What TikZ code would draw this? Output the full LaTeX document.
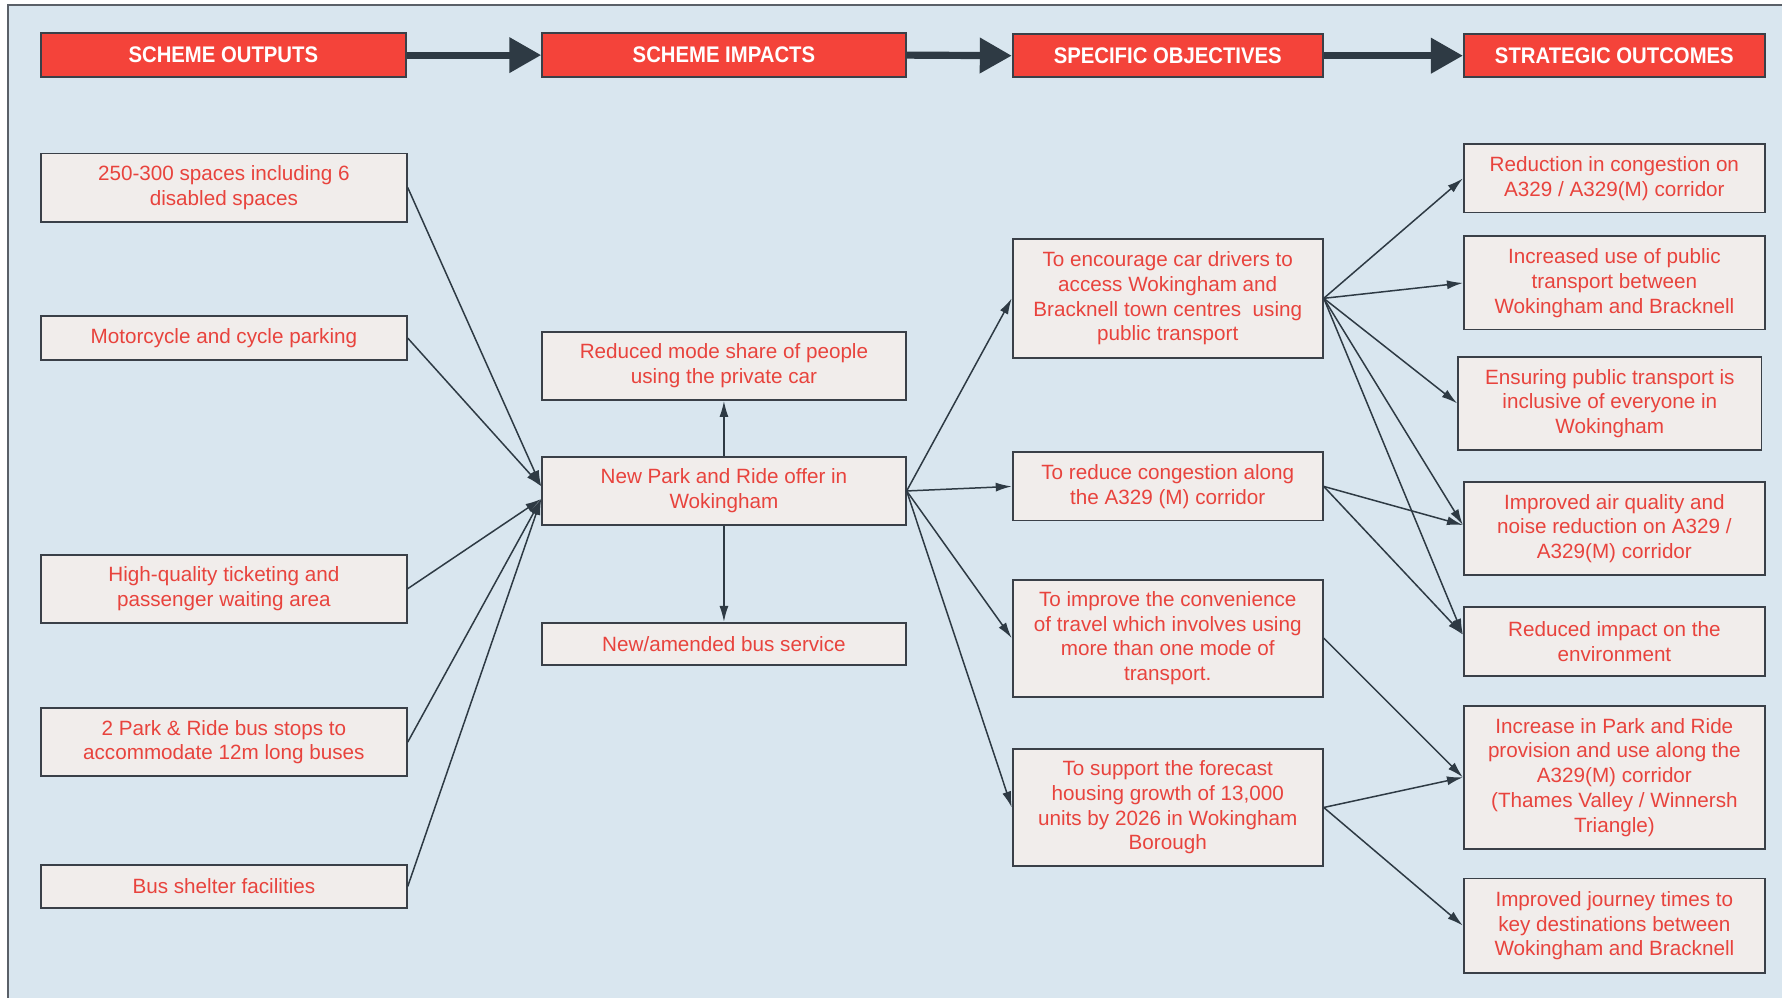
\documentclass[tikz,border=0pt]{standalone}
\usepackage{fontspec}
\setmainfont{Liberation Sans}
\newfontfamily\hdrfont[FakeStretch=0.9]{Liberation Sans}
\usetikzlibrary{arrows.meta,calc}
\definecolor{bg}{HTML}{D9E6EF}
\definecolor{hdr}{HTML}{F4433A}
\definecolor{boxfill}{HTML}{F1EDEB}
\definecolor{boxline}{HTML}{3A4048}
\definecolor{txt}{HTML}{E8433D}
\definecolor{arr}{HTML}{2E3A44}
\definecolor{framec}{HTML}{5A6068}
\begin{document}
\begin{tikzpicture}[x=0.02cm,y=-0.02cm,
 hdrbox/.style={draw=boxline,line width=0.9pt,fill=hdr,text=white,font=\hdrfont\bfseries\fontsize{11.3}{13}\selectfont,minimum height=0.78cm,inner sep=0pt},
 txtbox/.style={draw=boxline,line width=0.9pt,fill=boxfill,text=txt,font=\fontsize{10.35}{12.4}\selectfont,align=center,inner sep=0pt},
 bigarrow/.style={draw=arr,line width=3.6pt,-{Triangle[length=16pt,width=17pt]}},
 conn/.style={draw=arr,line width=0.75pt,-{Latex[length=8pt,width=4.5pt]}}
]
\useasboundingbox (0,0) rectangle (1568,878);
\fill[white] (0,0) rectangle (1568,878);
\fill[bg] (7,4) rectangle (1568,878);
\draw[framec,line width=1pt] (7,878) -- (7,4) -- (1568,4);

% headers
\node[hdrbox,minimum width=6.42cm] (h1) at (196.5,48.5) {SCHEME OUTPUTS};
\node[hdrbox,minimum width=6.4cm] (h2) at (637,48.5) {SCHEME IMPACTS};
\node[hdrbox,minimum width=5.46cm,minimum height=0.76cm] (h3) at (1027.5,49) {SPECIFIC OBJECTIVES};
\node[hdrbox,minimum width=5.3cm,minimum height=0.76cm] (h4) at (1420.5,49) {STRATEGIC OUTCOMES};
\draw[bigarrow] (h1.east) -- (h2.west);
\draw[bigarrow] (h2.east) -- (h3.west);
\draw[bigarrow] (h3.east) -- (h4.west);

% scheme outputs
\node[txtbox,minimum width=6.44cm,minimum height=1.2cm] (l1) at (197,165) {250-300 spaces including 6\\disabled spaces};
\node[txtbox,minimum width=6.44cm,minimum height=0.78cm] (l2) at (197,297.5) {Motorcycle and cycle parking};
\node[txtbox,minimum width=6.44cm,minimum height=1.2cm] (l3) at (197,518) {High-quality ticketing and\\passenger waiting area};
\node[txtbox,minimum width=6.44cm,minimum height=1.2cm] (l4) at (197,653) {2 Park \& Ride bus stops to\\accommodate 12m long buses};
\node[txtbox,minimum width=6.44cm,minimum height=0.76cm] (l5) at (197,780) {Bus shelter facilities};

% scheme impacts
\node[txtbox,minimum width=6.4cm,minimum height=1.2cm] (m1) at (637,322) {Reduced mode share of people\\using the private car};
\node[txtbox,minimum width=6.4cm,minimum height=1.2cm] (npr) at (637,432) {New Park and Ride offer in\\Wokingham};
\node[txtbox,minimum width=6.4cm,minimum height=0.74cm] (m3) at (637,566.5) {New/amended bus service};

% specific objectives
\node[txtbox,minimum width=5.46cm,minimum height=2.1cm] (o1) at (1027.5,262.5) {To encourage car drivers to\\access Wokingham and\\Bracknell town centres\ \ using\\public transport};
\node[txtbox,minimum width=5.46cm,minimum height=1.2cm] (o2) at (1027.5,428) {To reduce congestion along\\the A329 (M) corridor};
\node[txtbox,minimum width=5.46cm,minimum height=2.06cm] (o3) at (1027.5,561.5) {To improve the convenience\\of travel which involves using\\more than one mode of\\transport.};
\node[txtbox,minimum width=5.46cm,minimum height=2.06cm] (o4) at (1027.5,710.5) {To support the forecast\\housing growth of 13,000\\units by 2026 in Wokingham\\Borough};

% strategic outcomes
\node[txtbox,minimum width=5.3cm,minimum height=1.2cm] (s1) at (1420.5,157) {Reduction in congestion on\\A329 / A329(M) corridor};
\node[txtbox,minimum width=5.3cm,minimum height=1.64cm] (s2) at (1420.5,249) {Increased use of public\\transport between\\Wokingham and Bracknell};
\node[txtbox,minimum width=5.34cm,minimum height=1.64cm] (s3) at (1416.5,355) {Ensuring public transport is\\inclusive of everyone in\\Wokingham};
\node[txtbox,minimum width=5.3cm,minimum height=1.64cm] (s4) at (1420.5,465) {Improved air quality and\\noise reduction on A329 /\\A329(M) corridor};
\node[txtbox,minimum width=5.3cm,minimum height=1.22cm] (s5) at (1420.5,564.5) {Reduced impact on the\\environment};
\node[txtbox,minimum width=5.3cm,minimum height=2.52cm] (s6) at (1420.5,684) {Increase in Park and Ride\\provision and use along the\\A329(M) corridor\\(Thames Valley / Winnersh\\Triangle)};
\node[txtbox,minimum width=5.3cm,minimum height=1.66cm] (s7) at (1420.5,814.5) {Improved journey times to\\key destinations between\\Wokingham and Bracknell};

% arrival points
\coordinate (nprA) at ($(npr.west)+(0,-4)$);
\coordinate (nprB) at ($(npr.west)+(0,7)$);
\coordinate (s4A) at ($(s4.west)+(0,-3)$);
\coordinate (s5A) at ($(s5.west)+(0,-6)$);

% connectors
\draw[conn] (l1.east) -- (nprA);
\draw[conn] (l2.east) -- (nprA);
\draw[conn] (l3.east) -- (nprB);
\draw[conn] (l4.east) -- (nprB);
\draw[conn] (l5.east) -- (nprB);

\draw[conn] (npr.north) -- (m1.south);
\draw[conn] (npr.south) -- (m3.north);

\draw[conn] (npr.east) -- (o1.west);
\draw[conn] (npr.east) -- (o2.west);
\draw[conn] (npr.east) -- (o3.west);
\draw[conn] (npr.east) -- (o4.west);

\draw[conn] (o1.east) -- (s1.west);
\draw[conn] (o1.east) -- (s2.west);
\draw[conn] (o1.east) -- (s3.west);
\draw[conn] (o1.east) -- (s4A);
\draw[conn] (o1.east) -- (s5A);
\draw[conn] (o2.east) -- (s4A);
\draw[conn] (o2.east) -- (s5A);
\draw[conn] (o3.east) -- (s6.west);
\draw[conn] (o4.east) -- (s6.west);
\draw[conn] (o4.east) -- (s7.west);
\end{tikzpicture}
\end{document}
